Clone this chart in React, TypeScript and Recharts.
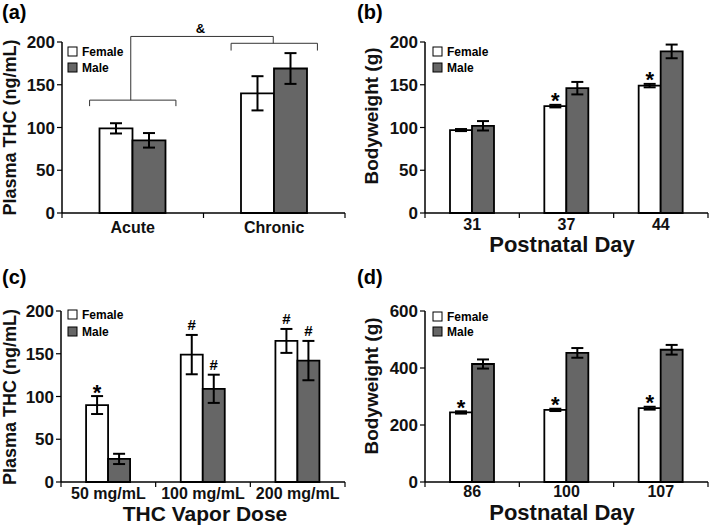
import React from 'react'
import { BarChart, Bar, XAxis, YAxis, ErrorBar, LabelList } from 'recharts'

const FONT = '"Liberation Sans", Arial, Helvetica, sans-serif'
const MALE_FILL = '#666666'

// (a) plasma THC after acute vs chronic exposure
const routeGroups = ['Acute', 'Chronic']
const routeFemale = [99, 140]
const routeFemaleErr = [6, 20]
const routeMale = [85, 169]
const routeMaleErr = [8.5, 18]

// (b) adolescent bodyweight
const adolDays = ['31', '37', '44']
const adolFemale = [97, 125, 149]
const adolFemaleErr = [1.2, 1.5, 2]
const adolMale = [102, 146, 189]
const adolMaleErr = [5.5, 7.3, 8]
const adolFemaleMark = ['', '*', '*']

// (c) plasma THC by vapor dose
const vaporDoses = ['50 mg/mL', '100 mg/mL', '200 mg/mL']
const vaporFemale = [90, 149, 165]
const vaporFemaleErr = [10.5, 23, 14]
const vaporMale = [27, 109, 142]
const vaporMaleErr = [6, 16.5, 23]
const vaporFemaleMark = ['*', '#', '#']
const vaporMaleMark = ['', '#', '#']

// (d) adult bodyweight
const adultDays = ['86', '100', '107']
const adultFemale = [244, 253, 259]
const adultFemaleErr = [4, 4, 5]
const adultMale = [414, 453, 464]
const adultMaleErr = [16, 17, 17]
const adultFemaleMark = ['*', '*', '*']

const thcTicks = [0, 50, 100, 150, 200]
const bw200Ticks = [0, 50, 100, 150, 200]
const bw600Ticks = [0, 200, 400, 600]

type Plot = { left: number; right: number; top: number; bottom: number }

const markLabel = (vals: number[], errs: number[], marks?: string[]) => (p: any) => {
  const i = p.index
  const m = marks ? marks[i] : ''
  if (!m) return null
  const errTop = p.y - errs[i] * (p.height / vals[i])
  const cx = p.x + p.width / 2
  if (m === '*') {
    return (
      <text x={cx} y={errTop + 3.5} textAnchor="middle" fontSize={22} fontWeight="bold" fontFamily={FONT}>
        *
      </text>
    )
  }
  return (
    <text x={cx} y={errTop - 5} textAnchor="middle" fontSize={15} fontWeight="bold" fontFamily={FONT}>
      {m}
    </text>
  )
}

function Legend({ x, y, gap }: { x: number; y: number; gap: number }) {
  return (
    <g fontFamily={FONT} fontWeight="bold" fontSize={12}>
      <rect x={x} y={y} width={9} height={9} fill="#fff" stroke="#000" strokeWidth={1} />
      <text x={x + 14} y={y + 9}>Female</text>
      <rect x={x} y={y + gap} width={9} height={9} fill={MALE_FILL} stroke="#000" strokeWidth={1} />
      <text x={x + 14} y={y + gap + 9}>Male</text>
    </g>
  )
}

interface PanelProps {
  left: number
  top: number
  width: number
  height: number
  plot: Plot
  cats: string[]
  female: number[]
  femaleErr: number[]
  male: number[]
  maleErr: number[]
  femaleMark?: string[]
  maleMark?: string[]
  yMax: number
  yTicks: number[]
  tickDy: number
  letter: string
  yLabel: { text: string; x: number; cy: number; size: number }
  xLabel?: { text: string; cx: number; y: number; size: number }
  legend: { x: number; y: number; gap: number }
  extra?: (yPx: (v: number) => number, band: number) => React.ReactNode
}

function Panel(props: PanelProps) {
  const { left, top, width, height, plot, cats, yMax } = props
  const band = (plot.right - plot.left) / cats.length
  const yPx = (v: number) => plot.top + (1 - v / yMax) * (plot.bottom - plot.top)

  const data = cats.map((c, i) => ({
    cat: c,
    female: props.female[i],
    femaleErr: props.femaleErr[i],
    male: props.male[i],
    maleErr: props.maleErr[i],
    fMark: props.femaleMark ? props.femaleMark[i] : '',
    mMark: props.maleMark ? props.maleMark[i] : '',
  }))

  // labels at band centres, tick marks at band boundaries
  const XTick = (tp: any) => {
    const { x, payload, index } = tp
    const last = index === cats.length - 1
    return (
      <g>
        <line x1={x - band / 2} x2={x - band / 2} y1={plot.bottom} y2={plot.bottom + 5} stroke="#000" strokeWidth={1.2} />
        {last && (
          <line x1={x + band / 2} x2={x + band / 2} y1={plot.bottom} y2={plot.bottom + 5} stroke="#000" strokeWidth={1.2} />
        )}
        <text x={x} y={plot.bottom + props.tickDy} textAnchor="middle" fontSize={16} fontWeight="bold" fontFamily={FONT} fill="#111">
          {payload.value}
        </text>
      </g>
    )
  }

  return (
    <div style={{ position: 'absolute', left, top, width, height }}>
      <BarChart
        width={width}
        height={height}
        data={data}
        margin={{ top: plot.top, right: width - plot.right, bottom: 0, left: 0 }}
        barCategoryGap="26.5%"
        barGap={0}
      >
        <XAxis
          dataKey="cat"
          height={height - plot.bottom}
          axisLine={{ stroke: '#000', strokeWidth: 1.5 }}
          tickLine={false}
          tick={XTick}
          interval={0}
        />
        <YAxis
          width={plot.left}
          domain={[0, yMax]}
          ticks={props.yTicks}
          axisLine={{ stroke: '#000', strokeWidth: 1.5 }}
          tickLine={{ stroke: '#000', strokeWidth: 1.2 }}
          tickSize={5}
          tickMargin={2}
          tick={{ fontSize: 17, fontWeight: 'bold', fontFamily: FONT, fill: '#111' }}
        />
        <Bar dataKey="female" fill="#fff" stroke="#000" strokeWidth={1.8} isAnimationActive={false}>
          <ErrorBar dataKey="femaleErr" width={6} stroke="#000" strokeWidth={2} direction="y" />
          <LabelList dataKey="fMark" content={markLabel(props.female, props.femaleErr, props.femaleMark)} />
        </Bar>
        <Bar dataKey="male" fill={MALE_FILL} stroke="#000" strokeWidth={1.8} isAnimationActive={false}>
          <ErrorBar dataKey="maleErr" width={6} stroke="#000" strokeWidth={2} direction="y" />
          <LabelList dataKey="mMark" content={markLabel(props.male, props.maleErr, props.maleMark)} />
        </Bar>
      </BarChart>
      <svg width={width} height={height} style={{ position: 'absolute', left: 0, top: 0, pointerEvents: 'none' }}>
        <text x={2} y={19} fontSize={20} fontWeight="bold" fontFamily={FONT}>
          {props.letter}
        </text>
        <text
          transform={`translate(${props.yLabel.x},${props.yLabel.cy}) rotate(-90)`}
          textAnchor="middle"
          fontSize={props.yLabel.size}
          fontWeight="bold"
          fontFamily={FONT}
          fill="#111"
        >
          {props.yLabel.text}
        </text>
        {props.xLabel && (
          <text
            x={props.xLabel.cx}
            y={props.xLabel.y}
            textAnchor="middle"
            fontSize={props.xLabel.size}
            fontWeight="bold"
            fontFamily={FONT}
            fill="#111"
          >
            {props.xLabel.text}
          </text>
        )}
        <Legend {...props.legend} />
        {props.extra && props.extra(yPx, band)}
      </svg>
    </div>
  )
}

// significance brackets for panel (a)
const acuteBracket = { level: 132, foot: 125 }
const chronicBracket = { level: 198.5, foot: 190 }
const topConnector = 206.5

function routeBrackets(plot: Plot) {
  return (yPx: (v: number) => number, band: number) => {
    const c0 = plot.left + band * 0.5
    const c1 = plot.left + band * 1.5
    const half = band * 0.305
    const s = { stroke: '#333', strokeWidth: 1, fill: 'none' }
    return (
      <g>
        <polyline
          points={`${c0 - half},${yPx(acuteBracket.foot)} ${c0 - half},${yPx(acuteBracket.level)} ${c0 + half},${yPx(acuteBracket.level)} ${c0 + half},${yPx(acuteBracket.foot)}`}
          {...s}
        />
        <polyline
          points={`${c1 - half},${yPx(chronicBracket.foot)} ${c1 - half},${yPx(chronicBracket.level)} ${c1 + half},${yPx(chronicBracket.level)} ${c1 + half},${yPx(chronicBracket.foot)}`}
          {...s}
        />
        <polyline
          points={`${c0 - 2},${yPx(acuteBracket.level)} ${c0 - 2},${yPx(topConnector)} ${c1 - 1},${yPx(topConnector)} ${c1 - 1},${yPx(chronicBracket.level)}`}
          {...s}
        />
        <text x={(c0 + c1) / 2 - 3} y={yPx(topConnector) - 3} textAnchor="middle" fontSize={13} fontWeight="bold" fontFamily={FONT}>
          &amp;
        </text>
      </g>
    )
  }
}

const plotA: Plot = { left: 62, right: 345, top: 42, bottom: 213 }
const plotB: Plot = { left: 70, right: 353, top: 42, bottom: 213 }
const plotC: Plot = { left: 61, right: 345, top: 46, bottom: 217 }
const plotD: Plot = { left: 70, right: 353, top: 46, bottom: 217 }

export default function App() {
  return (
    <div style={{ position: 'absolute', left: 0, top: 0, width: 709, height: 531, background: '#fff', overflow: 'hidden' }}>
      <Panel
        left={0}
        top={0}
        width={355}
        height={265}
        plot={plotA}
        cats={routeGroups}
        female={routeFemale}
        femaleErr={routeFemaleErr}
        male={routeMale}
        maleErr={routeMaleErr}
        yMax={200}
        yTicks={thcTicks}
        tickDy={20}
        letter="(a)"
        yLabel={{ text: 'Plasma THC (ng/mL)', x: 15.5, cy: 127.5, size: 18 }}
        legend={{ x: 68, y: 47, gap: 16 }}
        extra={routeBrackets(plotA)}
      />
      <Panel
        left={355}
        top={0}
        width={354}
        height={265}
        plot={plotB}
        cats={adolDays}
        female={adolFemale}
        femaleErr={adolFemaleErr}
        male={adolMale}
        maleErr={adolMaleErr}
        femaleMark={adolFemaleMark}
        yMax={200}
        yTicks={bw200Ticks}
        tickDy={17}
        letter="(b)"
        yLabel={{ text: 'Bodyweight (g)', x: 23, cy: 116, size: 19 }}
        xLabel={{ text: 'Postnatal Day', cx: 207, y: 252, size: 22 }}
        legend={{ x: 78, y: 47, gap: 16 }}
      />
      <Panel
        left={0}
        top={265}
        width={355}
        height={266}
        plot={plotC}
        cats={vaporDoses}
        female={vaporFemale}
        femaleErr={vaporFemaleErr}
        male={vaporMale}
        maleErr={vaporMaleErr}
        femaleMark={vaporFemaleMark}
        maleMark={vaporMaleMark}
        yMax={200}
        yTicks={thcTicks}
        tickDy={17}
        letter="(c)"
        yLabel={{ text: 'Plasma THC (ng/mL)', x: 15.5, cy: 132, size: 18 }}
        xLabel={{ text: 'THC Vapor Dose', cx: 205, y: 256, size: 21 }}
        legend={{ x: 68, y: 45, gap: 17 }}
      />
      <Panel
        left={355}
        top={265}
        width={354}
        height={266}
        plot={plotD}
        cats={adultDays}
        female={adultFemale}
        femaleErr={adultFemaleErr}
        male={adultMale}
        maleErr={adultMaleErr}
        femaleMark={adultFemaleMark}
        yMax={600}
        yTicks={bw600Ticks}
        tickDy={15}
        letter="(d)"
        yLabel={{ text: 'Bodyweight (g)', x: 23, cy: 121, size: 19 }}
        xLabel={{ text: 'Postnatal Day', cx: 207, y: 255, size: 22 }}
        legend={{ x: 78, y: 47, gap: 15 }}
      />
    </div>
  )
}
